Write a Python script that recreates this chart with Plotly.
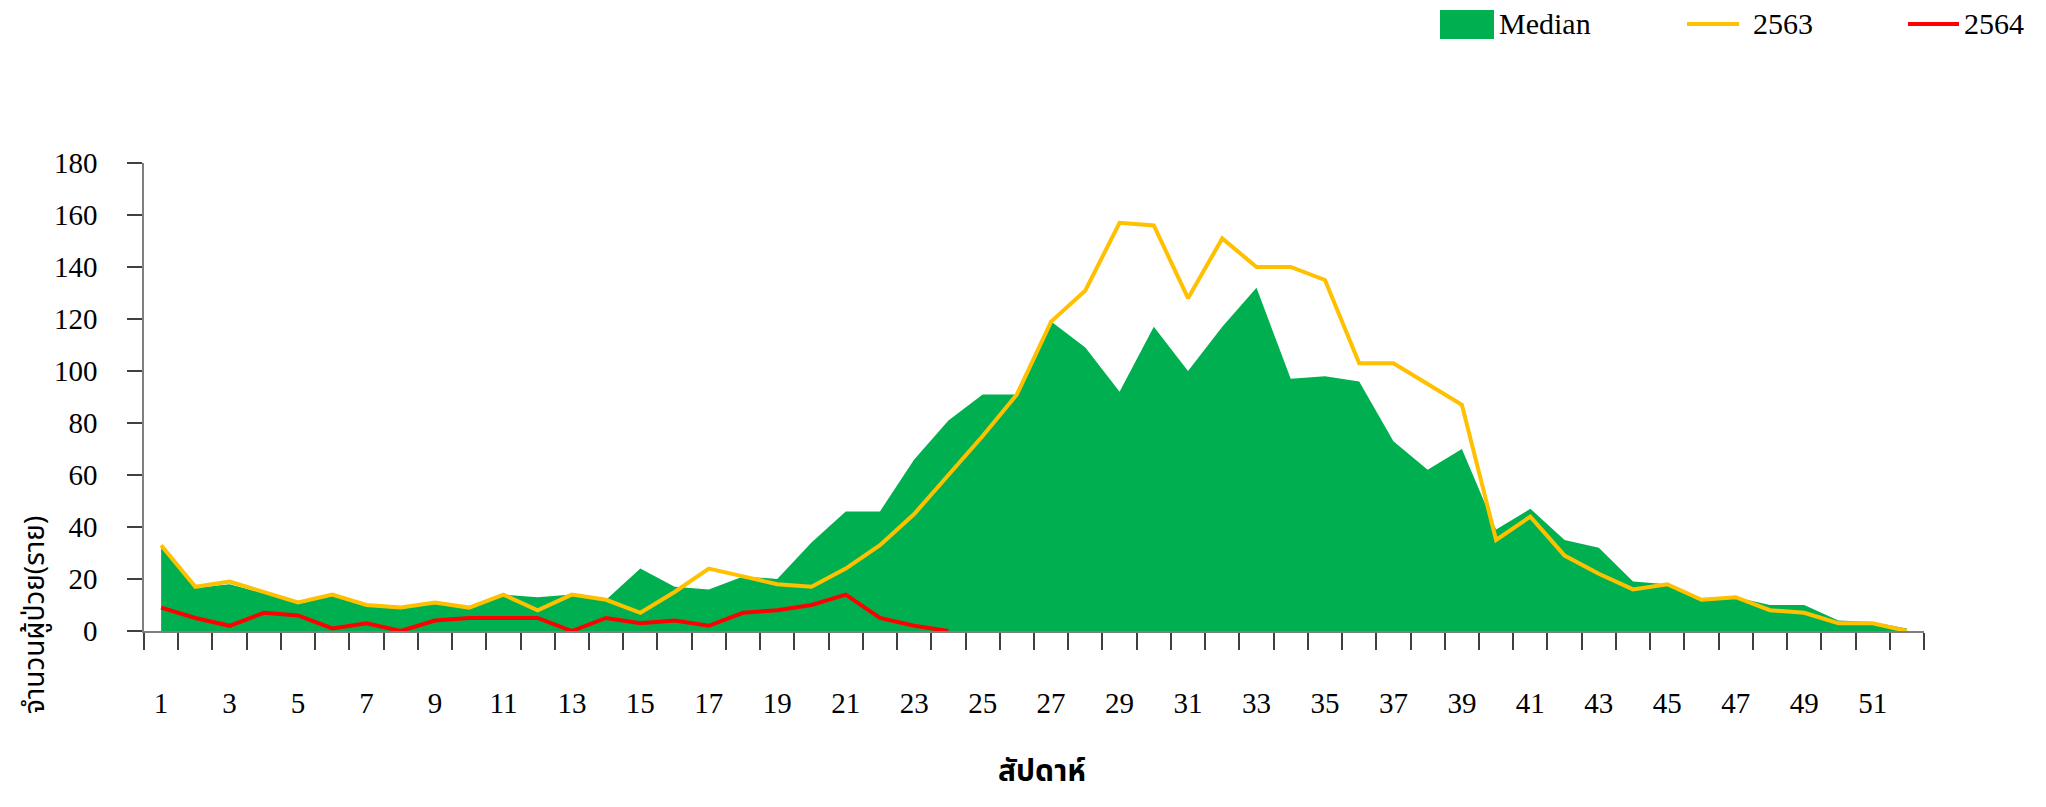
import plotly.graph_objects as go

weeks = list(range(1, 53))
median = [32, 16.5, 18, 14.5, 10.5, 13.5, 9.5, 8.5, 10.5, 8.5, 14, 13, 14, 12, 24, 17, 16, 21, 20, 34,
          46, 46, 66, 81, 91, 91, 119, 109, 92, 117, 100, 117, 132, 97, 98, 96, 73, 62, 70, 39,
          47, 35, 32, 19, 18, 12, 13, 10, 10, 4, 3.5, 1]
y2563 = [33, 17, 19, 15, 11, 14, 10, 9, 11, 9, 14, 8, 14, 12, 7, 15, 24, 21, 18, 17,
         24, 33, 45, 60, 75, 91, 119, 131, 157, 156, 128, 151, 140, 140, 135, 103, 103, 95, 87, 35,
         44, 29, 22, 16, 18, 12, 13, 8, 7, 3, 3, 0]
y2564 = [9, 5, 2, 7, 6, 1, 3, 0, 4, 5, 5, 5, 0, 5, 3, 4, 2, 7, 8, 10, 14, 5, 2, 0]
xlabels = [str(w) for w in range(1, 52, 2)]
ylabels = [str(v) for v in range(0, 181, 20)]

GREEN = "#00B050"
YELLOW = "#FFC000"
RED = "#FF0000"
SERIF = "Liberation Serif, Times New Roman, serif"
THAI = "Tahoma, Noto Sans Thai, Loma, Garuda, sans-serif"

fig = go.Figure()
fig.add_trace(go.Scatter(x=weeks, y=median, name="Median", mode="lines", fill="tozeroy",
                         fillcolor=GREEN, line=dict(width=0, color=GREEN), showlegend=False))
fig.add_trace(go.Scatter(x=weeks, y=y2563, name="2563", mode="lines",
                         line=dict(width=4, color=YELLOW), showlegend=False))
fig.add_trace(go.Scatter(x=weeks[:len(y2564)], y=y2564, name="2564", mode="lines",
                         line=dict(width=4, color=RED), showlegend=False))

OFF = 8  # page body margin
FW, FH = 2046 - 2 * OFF, 807 - 2 * OFF
L, R, T, B = 144 - OFF, 1924 - OFF, 163 - OFF, 631 - OFF
PW, PH = R - L, B - T
def px(x):
    return (x - OFF - L) / PW
def py(y):
    return (B - (y - OFF)) / PH

shapes = [
    dict(type="rect", xref="paper", yref="paper", x0=px(1440), x1=px(1494), y0=py(39), y1=py(10),
         fillcolor=GREEN, line=dict(width=0)),
    dict(type="line", xref="paper", yref="paper", x0=px(1687), x1=px(1739), y0=py(24), y1=py(24),
         line=dict(color=YELLOW, width=4)),
    dict(type="line", xref="paper", yref="paper", x0=px(1908), x1=px(1959), y0=py(24), y1=py(24),
         line=dict(color=RED, width=4)),
]
annotations = [
    dict(text="Median", xref="paper", yref="paper", x=px(1497), y=py(24), xanchor="left", yanchor="middle",
         showarrow=False, font=dict(family=SERIF, size=30, color="#000")),
    dict(text="2563", xref="paper", yref="paper", x=px(1751), y=py(24), xanchor="left", yanchor="middle",
         showarrow=False, font=dict(family=SERIF, size=30, color="#000")),
    dict(text="2564", xref="paper", yref="paper", x=px(1962), y=py(24), xanchor="left", yanchor="middle",
         showarrow=False, font=dict(family=SERIF, size=30, color="#000")),
    dict(text="จำนวนผู้ป่วย(ราย)", xref="paper", yref="paper", x=px(35), y=py(615), xanchor="center",
         yanchor="middle", textangle=-90, showarrow=False, font=dict(family=THAI, size=28, color="#000")),
    dict(text="<b>สัปดาห์</b>", xref="paper", yref="paper", x=px(1042), y=py(797), xanchor="center",
         yanchor="bottom", showarrow=False, font=dict(family=THAI, size=30, color="#000")),
]

fig.update_layout(
    width=FW, height=FH,
    margin=dict(l=L, r=FW - R, t=T, b=FH - B, pad=0),
    paper_bgcolor="white", plot_bgcolor="white",
    showlegend=False,
    shapes=shapes, annotations=annotations,
    xaxis=dict(range=[0.5, 52.5], tickmode="array", tickvals=list(range(1, 52, 2)), ticktext=xlabels,
               ticks="outside", ticklen=45, tickcolor="rgba(0,0,0,0)", showgrid=False, zeroline=False,
               showline=True, linecolor="#7f7f7f", linewidth=1.5,
               tickfont=dict(family=SERIF, size=29, color="#000"),
               minor=dict(tickmode="linear", tick0=0.5, dtick=1, ticks="outside", ticklen=17,
                          tickcolor="#404040", tickwidth=1.5, showgrid=False)),
    yaxis=dict(range=[0, 180], tickmode="array", tickvals=list(range(0, 181, 20)), ticktext=ylabels,
               ticks="outside", ticklen=15, tickcolor="#404040", tickwidth=1.5, showgrid=False,
               zeroline=False, showline=True, linecolor="#7f7f7f", linewidth=1.5,
               ticklabelstandoff=24,
               tickfont=dict(family=SERIF, size=29, color="#000")),
)

fig.write_html("out.html")
